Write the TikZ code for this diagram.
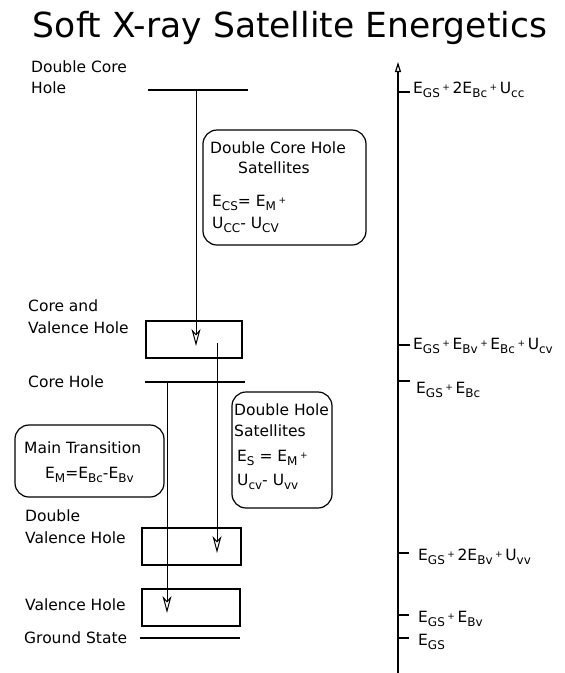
\documentclass[tikz,border=0pt]{standalone}
\usepackage{fontspec}
\setmainfont{DejaVu Sans}
\usepackage{xcolor}
\usetikzlibrary{positioning,arrows.meta}

\newcommand{\ssub}[1]{\raisebox{-0.55ex}{\fontsize{12}{12}\selectfont #1}}
\newcommand{\pl}{\,\raisebox{0.3ex}{\fontsize{9}{9}\selectfont +}\,}

\begin{document}
\begin{tikzpicture}[
  x=1pt, y=-1pt,
  level/.style={line width=1.2pt},
  statebox/.style={draw, line width=1.2pt, minimum width=98pt, minimum height=37pt, inner sep=0pt},
  satbox/.style={draw, line width=1.2pt, rounded corners=14pt, inner sep=0pt},
  lbl/.style={font=\fontsize{15.5}{21}\selectfont, align=left, inner sep=0pt, anchor=base west},
  trans/.style={-{Stealth[open,length=17pt,width=9pt,inset=5pt]}, line width=1pt},
  axis/.style={-{Triangle[open,length=10pt,width=6pt]}, line width=1.2pt},
  tick/.style={line width=1.2pt},
  elbl/.style={font=\fontsize{15.5}{18}\selectfont, inner sep=0pt, anchor=base west}
]
\useasboundingbox (0,0) rectangle (565,673);

\node[font=\fontsize{34.5}{40}\selectfont, anchor=base] (title) at (290,37) {Soft X-ray Satellite Energetics};

% energy levels
\node[lbl] (ldch) at (31,93) {Double Core\\Hole};
\coordinate (dchL) at (148,90);
\coordinate (dchR) at (248,90);
\draw[level] (dchL) -- (dchR);

\node[lbl, font=\fontsize{15.5}{22}\selectfont] (lcv) at (28,333) {Core and\\Valence Hole};
\node[statebox, minimum width=96pt] (cvbox) at (194,339.5) {};

\node[lbl] (lch) at (28,387) {Core Hole};
\coordinate (chL) at (145,382);
\coordinate (chR) at (245,382);
\draw[level] (chL) -- (chR);

\node[lbl, font=\fontsize{15.5}{22}\selectfont] (ldvh) at (25,543) {Double\\Valence Hole};
\node[statebox, minimum width=99pt] (dvbox) at (191.5,546.5) {};

\node[lbl] (lvh) at (25,610) {Valence Hole};
\node[statebox] (vbox) at (191,607.5) {};

\node[lbl] (lgs) at (24,643) {Ground State};
\coordinate (gsL) at (140,638);
\coordinate (gsR) at (240,638);
\draw[level] (gsL) -- (gsR);

% transitions
\coordinate (t1s) at (196,90);
\coordinate (t1e) at (196,346);
\draw[trans] (t1s) -- (t1e);
\coordinate (t2s) at (167,382);
\coordinate (t2e) at (167,613);
\draw[trans] (t2s) -- (t2e);
\coordinate (t3s) at (217,343);
\coordinate (t3e) at (217,553);
\draw[trans] (t3s) -- (t3e);

% satellite boxes
\node[satbox, minimum width=163pt, minimum height=115pt] (dchsat) at (284.5,187.5) {};
\node[lbl] (dchsat1) at (210,153) {Double Core Hole};
\node[lbl] (dchsat2) at (238,173) {Satellites};
\node[lbl] (dchsat3) at (212,206) {E\ssub{CS}= E\ssub{M}\pl};
\node[lbl] (dchsat4) at (212,228) {U\ssub{CC}- U\ssub{CV}};

\node[satbox, minimum width=100pt, minimum height=116pt] (dhsat) at (282,450) {};
\node[lbl] (dhsat1) at (234,415) {Double Hole};
\node[lbl] (dhsat2) at (234,436) {Satellites};
\node[lbl] (dhsat3) at (237,461) {E\ssub{S} = E\ssub{M}\pl};
\node[lbl] (dhsat4) at (237,485) {U\ssub{cv}- U\ssub{vv}};

\node[satbox, minimum width=149pt, minimum height=72pt] (mtbox) at (89.5,461) {};
\node[lbl] (mt1) at (24,453) {Main Transition};
\node[lbl] (mt2) at (45,478) {E\ssub{M}=E\ssub{Bc}-E\ssub{Bv}};

% energy axis
\coordinate (axbot) at (398,673);
\coordinate (axtop) at (398,62);
\draw[axis] (axbot) -- (axtop);

\coordinate (k1) at (398,92);
\draw[tick] (k1) -- ++(12,0);
\node[elbl] (e1) at (413,93) {E\ssub{GS}\pl2E\ssub{Bc}\pl U\ssub{cc}};
\coordinate (k2) at (398,345);
\draw[tick] (k2) -- ++(12,0);
\node[elbl] (e2) at (413,349) {E\ssub{GS}\pl E\ssub{Bv}\pl E\ssub{Bc}\pl U\ssub{cv}};
\coordinate (k3) at (398,381);
\draw[tick] (k3) -- ++(12,0);
\node[elbl] (e3) at (416,393) {E\ssub{GS}\pl E\ssub{Bc}};
\coordinate (k4) at (398,553);
\draw[tick] (k4) -- ++(11,0);
\node[elbl] (e4) at (418,560) {E\ssub{GS}\pl 2E\ssub{Bv}\pl U\ssub{vv}};
\coordinate (k5) at (398,615);
\draw[tick] (k5) -- ++(11,0);
\node[elbl] (e5) at (418,622) {E\ssub{GS}\pl E\ssub{Bv}};
\coordinate (k6) at (398,638);
\draw[tick] (k6) -- ++(11,0);
\node[elbl] (e6) at (418,645) {E\ssub{GS}};
\end{tikzpicture}
\end{document}
